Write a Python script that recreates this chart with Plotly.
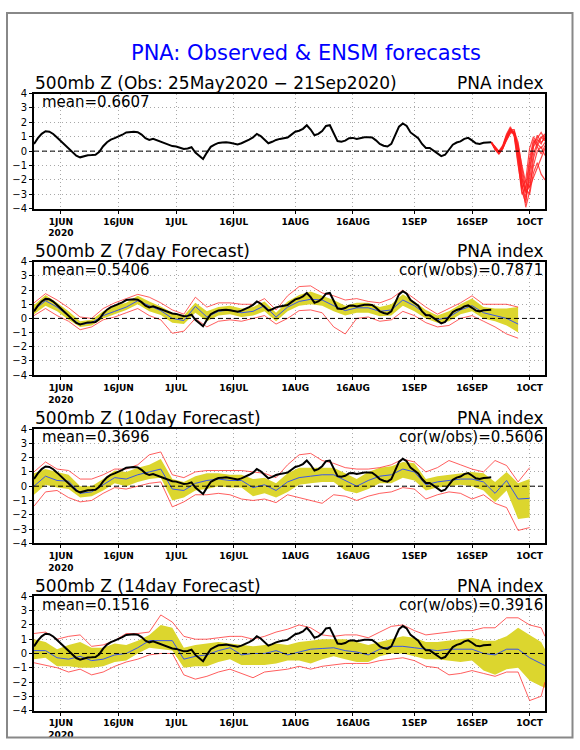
import pandas as pd
import plotly.graph_objects as go

W, H = 580, 750
START = pd.Timestamp("2020-05-25")

# ---------------- data ----------------
# observed PNA index, daily 25May2020 .. 21Sep2020
OBS = [0.50, 0.90, 1.20, 1.38, 1.35, 1.19, 0.95, 0.70, 0.40, 0.15,
       -0.10, -0.32, -0.43, -0.35, -0.28, -0.27, -0.25, -0.05, 0.34, 0.62,
       0.80, 0.90, 1.00, 1.14, 1.30, 1.35, 1.35, 1.32, 1.15, 0.90,
       0.78, 0.85, 0.75, 0.62, 0.55, 0.42, 0.35, 0.32, 0.22, 0.15,
       0.18, 0.27, -0.10, -0.35, -0.55, -0.10, 0.30, 0.45, 0.57, 0.60,
       0.62, 0.58, 0.52, 0.47, 0.55, 0.65, 0.80, 0.95, 1.20, 1.05,
       0.82, 0.55, 0.65, 0.78, 0.85, 0.89, 0.95, 1.15, 1.35, 1.42,
       1.55, 1.80, 1.50, 1.10, 1.20, 1.40, 1.75, 1.80, 1.25, 0.70,
       0.66, 0.73, 0.90, 0.92, 0.85, 0.92, 0.96, 0.96, 0.95, 0.75,
       0.50, 0.38, 0.32, 0.50, 1.10, 1.70, 1.92, 1.75, 1.30, 1.10,
       0.90, 0.50, 0.22, 0.22, 0.05, -0.15, -0.35, -0.25, 0.10, 0.45,
       0.60, 0.68, 0.85, 0.92, 0.75, 0.55, 0.50, 0.58, 0.60, 0.62]

# ensemble members (top panel), daily 21Sep .. 5Oct
ENS_DAYS = list(range(119, 134))
ENS_M1 = [0.62, 0.20, -0.10, 0.30, 1.00, 1.50, 1.20, -0.50, -2.80, -3.60, -1.50, 0.30, 0.80, 0.50, 1.10]
ENS_M2 = [0.62, 0.15, -0.15, 0.20, 0.90, 1.40, 1.30, 0.20, -1.80, -3.20, -2.00, -0.20, 0.60, 1.00, 0.70]
ENS_M3 = [0.62, 0.25, -0.05, 0.35, 1.10, 1.60, 1.10, -0.80, -3.00, -2.50, -0.50, 0.80, 0.30, -0.20, 0.40]
ENS_M4 = [0.62, 0.10, -0.20, 0.15, 0.80, 1.30, 1.40, 0.60, -1.20, -2.60, -3.00, -1.50, -0.80, -1.60, -2.00]
ENS_M5 = [0.62, 0.20, -0.10, 0.25, 0.95, 1.50, 1.50, 0.00, -2.20, -3.90, -2.80, -0.50, 0.40, 0.90, 1.20]
ENS_M6 = [0.62, 0.30, 0.00, 0.40, 1.20, 1.70, 1.00, -1.00, -2.60, -2.00, 0.20, 1.00, 0.50, 0.20, 0.60]
ENS_M7 = [0.62, 0.18, -0.12, 0.22, 0.85, 1.35, 1.25, 0.30, -1.50, -2.90, -2.40, -1.00, 0.00, 0.30, -0.30]
ENS_M8 = [0.62, 0.22, -0.08, 0.28, 1.05, 1.55, 1.35, -0.20, -2.40, -3.40, -1.20, 0.40, 1.10, 0.60, 0.90]
ENS_M9 = [0.62, 0.12, -0.18, 0.18, 0.75, 1.25, 1.30, 0.40, -1.00, -2.20, -2.50, -1.80, -1.20, -0.40, 0.20]
ENS_M10 = [0.62, 0.25, -0.05, 0.30, 1.00, 1.45, 1.15, -0.30, -2.00, -2.80, -0.80, 0.60, 0.90, 1.30, 0.80]
ENS_MEMBERS = [ENS_M1, ENS_M2, ENS_M3, ENS_M4, ENS_M5, ENS_M6, ENS_M7, ENS_M8, ENS_M9, ENS_M10]

# 7-day forecasts (every 3 days from 25May)
F7_DAYS = list(range(0, 127, 3))
F7_MEAN = [0.6, 1.25, 0.8, 0.2, -0.45, -0.3, 0.2, 0.5, 0.8, 1.25, 0.9, 0.55, 0.0, -0.15, 0.85,
           0.1, 0.5, 0.6, 0.4, 0.5, 0.9, 0.1, 0.8, 1.2, 1.35, 1.3, 0.9, 0.55, 0.75, 0.75,
           0.5, 0.6, 1.3, 0.9, 0.3, -0.1, 0.1, 0.6, 0.9, 0.4, 0.2, 0.0, -0.4]
F7_SLO = [0.3, 0.9, 0.5, -0.1, -0.6, -0.5, 0.0, 0.3, 0.6, 1.0, 0.5, 0.25, -0.3, -0.4, 0.4,
          -0.2, 0.2, 0.3, 0.1, 0.2, 0.5, -0.2, 0.5, 0.9, 1.0, 0.9, 0.5, 0.2, 0.4, 0.4,
          0.15, 0.2, 0.9, 0.5, 0.0, -0.3, -0.2, 0.3, 0.5, 0.0, -0.2, -0.5, -1.0]
F7_SHI = [0.95, 1.65, 1.1, 0.5, -0.2, -0.1, 0.5, 0.9, 1.1, 1.6, 1.2, 0.85, 0.4, 0.2, 1.1,
          0.5, 0.8, 0.9, 0.7, 0.8, 1.2, 0.4, 1.2, 1.65, 1.9, 1.6, 1.3, 0.9, 1.1, 1.1,
          0.8, 1.0, 1.7, 1.2, 0.6, 0.2, 0.5, 1.0, 1.4, 0.8, 0.7, 0.7, 0.8]
F7_MIN = [0.2, 0.7, 0.2, -0.2, -0.8, -0.6, -0.1, 0.1, 0.4, 0.7, 0.2, -0.1, -1.05, -0.9, 0.0,
          -0.6, -0.2, -0.1, -0.2, 0.0, 0.2, -0.4, 0.0, 0.55, 0.6, 0.4, -0.6, -1.1, 0.0, 0.1,
          -0.2, -0.1, 0.5, 0.2, -0.3, -0.6, -0.5, 0.0, 0.2, -0.2, -0.6, -1.1, -1.4]
F7_MAX = [1.1, 1.75, 1.3, 0.75, 0.1, 0.0, 0.7, 1.1, 1.4, 1.7, 1.5, 1.1, 0.6, 0.3, 1.5,
          0.8, 1.1, 1.1, 1.0, 1.0, 1.4, 0.6, 1.6, 2.25, 2.3, 1.8, 1.6, 1.3, 1.4, 1.2,
          1.1, 1.4, 2.0, 1.4, 0.8, 0.3, 0.7, 1.1, 1.6, 1.0, 1.0, 1.0, 0.8]

# 10-day forecasts
F10_DAYS = list(range(0, 130, 3))
F10_MEAN = [0.0, 0.7, 0.4, 0.35, -0.5, -0.4, 0.1, 0.6, 0.5, 0.8, 1.0, 1.2, -0.2, -0.3, 0.2,
            0.4, 0.5, 0.4, 0.4, -0.1, 0.1, -0.3, 0.3, 0.6, 0.7, 0.8, 0.8, 0.4, 0.0, 0.4,
            0.7, 0.8, 1.2, 1.0, 0.1, 0.3, 0.4, 0.5, 0.5, 0.3, -0.5, 0.4, -0.9, -0.85]
F10_SLO = [-0.6, 0.1, -0.1, -0.2, -0.8, -0.7, -0.3, 0.2, 0.0, 0.3, 0.5, 0.6, -1.0, -0.8, -0.3,
           -0.2, 0.0, -0.1, -0.1, -0.7, -0.5, -0.8, -0.4, 0.1, 0.2, 0.3, 0.3, -0.3, -0.5, -0.2,
           0.2, 0.2, 0.6, 0.4, -0.3, -0.1, 0.0, 0.1, 0.0, -0.3, -1.1, -0.3, -2.3, -2.2]
F10_SHI = [0.9, 1.2, 1.0, 0.8, 0.0, 0.0, 0.5, 1.1, 1.0, 1.3, 1.5, 1.9, 0.5, 0.3, 0.7,
           0.9, 0.9, 0.8, 0.8, 0.5, 0.6, 0.2, 0.9, 1.3, 1.3, 1.3, 1.3, 0.9, 0.5, 1.0,
           1.3, 1.4, 1.7, 1.6, 0.5, 0.7, 0.8, 0.9, 1.0, 0.9, 0.3, 1.0, 0.2, 0.5]
F10_MIN = [-1.4, -0.4, -0.3, -0.8, -1.1, -1.0, -0.5, -0.1, -0.2, 0.0, 0.2, 0.3, -1.45, -1.1, -0.6,
           -0.6, -0.5, -0.6, -0.9, -1.0, -0.9, -1.15, -0.6, -0.8, -1.0, -1.2, -0.6, -0.7, -1.0, -0.7,
           -0.5, -0.4, -0.1, -0.2, -0.9, -0.6, -0.4, -0.5, -0.9, -0.6, -1.2, -1.5, -3.1, -2.9]
F10_MAX = [1.0, 1.7, 1.2, 1.1, 0.5, 0.5, 0.8, 1.2, 1.2, 1.5, 2.2, 2.4, 0.8, 0.6, 1.0,
           1.1, 1.1, 1.1, 1.1, 1.0, 0.9, 0.6, 1.5, 2.2, 2.3, 1.8, 1.6, 1.3, 1.2, 1.2,
           1.3, 1.5, 1.9, 1.7, 1.0, 1.3, 1.8, 1.5, 1.2, 1.0, 1.8, 1.45, 0.3, 1.3]

# 14-day forecasts
F14_DAYS = list(range(0, 133, 3)) + [133]
F14_MEAN = [0.2, 0.2, -0.3, -0.4, -0.2, -0.5, -0.4, -0.1, 0.0, 0.4, 0.9, 0.9, 0.9, -0.4, -0.2,
            -0.1, 0.2, 0.4, -0.1, 0.0, 0.0, 0.2, -0.1, 0.1, 0.3, 0.35, 0.4, 0.2, 0.1, -0.1,
            0.3, 0.5, 0.5, 0.4, 0.3, 0.2, 0.3, 0.3, 0.3, 0.0, -0.1, 0.3, 0.3, -0.3, -0.7, -0.85]
F14_SLO = [-0.4, -0.3, -0.9, -0.9, -1.0, -1.0, -0.9, -0.6, -0.5, 0.0, 0.4, 0.3, 0.2, -1.0, -0.9,
           -0.9, -0.6, -0.4, -0.8, -0.8, -0.8, -0.7, -0.5, -0.5, -0.7, -0.4, -0.2, -0.4, -0.6, -0.6,
           -0.2, 0.0, 0.0, -0.2, -0.4, -0.4, -0.5, -0.6, -0.5, -1.2, -1.5, -1.1, -1.0, -1.9, -2.3, -2.4]
F14_SHI = [1.0, 0.8, 0.3, 0.6, 0.8, 0.4, 0.4, 0.7, 0.6, 0.9, 1.3, 2.0, 1.8, 0.4, 0.6,
           0.7, 0.8, 0.7, 0.6, 0.5, 0.6, 0.7, 0.6, 0.8, 0.9, 1.0, 1.0, 1.0, 0.8, 0.6,
           0.8, 1.0, 1.2, 1.1, 0.8, 0.8, 0.9, 1.0, 1.1, 0.9, 0.9, 1.2, 1.8, 1.3, 0.8, 0.3]
F14_MIN = [-0.65, -0.8, -1.0, -1.3, -1.1, -1.5, -1.3, -0.9, -0.6, -0.4, -0.1, 0.0, 0.0, -1.5, -1.8,
           -1.6, -1.3, -1.1, -1.4, -1.7, -1.3, -1.2, -1.1, -0.9, -1.1, -0.9, -0.8, -0.7, -0.7, -0.7,
           -0.5, -0.4, -0.3, -0.5, -0.9, -1.0, -1.5, -1.4, -1.2, -1.4, -1.6, -1.3, -1.3, -3.3, -3.0, -2.0]
F14_MAX = [1.4, 1.5, 1.0, 1.2, 1.3, 0.5, 0.6, 0.9, 1.4, 1.4, 1.5, 2.7, 2.2, 1.2, 1.0,
           1.0, 1.1, 1.2, 1.2, 1.0, 1.2, 1.5, 1.7, 2.0, 1.8, 1.3, 1.2, 1.3, 1.3, 1.1,
           1.5, 1.9, 2.0, 1.6, 1.3, 1.4, 1.5, 1.6, 1.6, 1.8, 1.8, 2.5, 2.5, 2.0, 1.8, 1.2]

TICK_DATES = ["2020-06-01", "2020-06-16", "2020-07-01", "2020-07-16", "2020-08-01",
              "2020-08-16", "2020-09-01", "2020-09-16", "2020-10-01"]
TICK_TEXT = ["1JUN<br>2020", "16JUN", "1JUL", "16JUL", "1AUG", "16AUG", "1SEP", "16SEP", "1OCT"]
Y_TICKS = [-4, -3, -2, -1, 0, 1, 2, 3, 4]
Y_TEXT = ["\u22124", "\u22123", "\u22122", "\u22121", "0", "1", "2", "3", "4"]

TITLE = "PNA: Observed & ENSM forecasts"
SUBTITLES = ["500mb Z (Obs: 25May2020 \u2212 21Sep2020)", "500mb Z (7day Forecast)",
             "500mb Z (10day Forecast)", "500mb Z (14day Forecast)"]
MEANS = ["mean=0.6607", "mean=0.5406", "mean=0.3696", "mean=0.1516"]
CORS = [None, "cor(w/obs)=0.7871", "cor(w/obs)=0.5606", "cor(w/obs)=0.3916"]

# ---------------- style / geometry ----------------
FONT = "DejaVu Sans"
YEL = "#dcd62e"
BLUE = "#3a55e6"
RED = "rgba(255,40,40,0.75)"
GRID = "#a8a8a8"
PX_L, PX_R = 34, 545
PANELS = [(89, 206), (260, 375), (430, 546), (600, 716)]


def dates(days):
    return [START + pd.Timedelta(days=d) for d in days]


fig = go.Figure()
obs_x = dates(range(len(OBS)))

for i in range(4):
    ax = "" if i == 0 else str(i + 1)
    xa, ya = "x" + ax, "y" + ax
    common = dict(xaxis=xa, yaxis=ya, showlegend=False, hoverinfo="skip", mode="lines")
    if i == 0:
        ex = dates(ENS_DAYS)
        for m in ENS_MEMBERS:
            fig.add_trace(go.Scatter(x=ex, y=m, line=dict(color="rgba(255,30,30,0.8)", width=1.2), **common))
    else:
        d, mean, slo, shi, mn, mx = [
            (F7_DAYS, F7_MEAN, F7_SLO, F7_SHI, F7_MIN, F7_MAX),
            (F10_DAYS, F10_MEAN, F10_SLO, F10_SHI, F10_MIN, F10_MAX),
            (F14_DAYS, F14_MEAN, F14_SLO, F14_SHI, F14_MIN, F14_MAX)][i - 1]
        fx = dates(d)
        fig.add_trace(go.Scatter(x=fx, y=slo, line=dict(width=0, color=YEL), **common))
        fig.add_trace(go.Scatter(x=fx, y=shi, line=dict(width=0, color=YEL), fill="tonexty",
                                 fillcolor=YEL, **common))
        fig.add_trace(go.Scatter(x=fx, y=mn, line=dict(color=RED, width=1), **common))
        fig.add_trace(go.Scatter(x=fx, y=mx, line=dict(color=RED, width=1), **common))
        fig.add_trace(go.Scatter(x=fx, y=mean, line=dict(color=BLUE, width=1), **common))
    fig.add_trace(go.Scatter(x=obs_x, y=OBS, line=dict(color="black", width=2), **common))

    top, bot = PANELS[i]
    fig.layout["xaxis" + ax] = dict(
        domain=[PX_L / W, PX_R / W], anchor=ya, type="date",
        range=["2020-05-25", "2020-10-05"],
        tickvals=TICK_DATES, ticktext=TICK_TEXT, ticks="outside", ticklen=3,
        tickcolor="black", tickfont=dict(family=FONT, size=9, color="black", weight="bold"),
        showgrid=True, gridcolor=GRID, griddash="1px,3px", gridwidth=1,
        showline=True, mirror=True, linecolor="black", linewidth=2, zeroline=False)
    fig.layout["yaxis" + ax] = dict(
        domain=[1 - bot / H, 1 - top / H], anchor=xa, range=[-4, 4],
        tickvals=Y_TICKS, ticktext=Y_TEXT, ticks="outside", ticklen=3, tickcolor="black",
        tickfont=dict(family=FONT, size=10, color="black"),
        showgrid=True, gridcolor=GRID, griddash="1px,3px", gridwidth=1,
        showline=True, mirror=True, linecolor="black", linewidth=2, zeroline=False)

    fig.add_shape(type="line", xref=xa + " domain", x0=0, x1=1, yref=ya, y0=0, y1=0,
                  line=dict(color="black", width=1, dash="5px,3px"), layer="above")

    fig.add_annotation(text=SUBTITLES[i], xref="paper", yref="paper", x=33 / W, y=1 - (top - 11) / H,
                       xanchor="left", yanchor="middle", showarrow=False,
                       font=dict(family=FONT, size=17, color="black"))
    fig.add_annotation(text="PNA index", xref="paper", yref="paper", x=546 / W, y=1 - (top - 11) / H,
                       xanchor="right", yanchor="middle", showarrow=False,
                       font=dict(family=FONT, size=17, color="black"))
    fig.add_annotation(text=MEANS[i], xref="paper", yref="paper", x=40 / W, y=1 - (top + 8.5) / H,
                       xanchor="left", yanchor="middle", showarrow=False,
                       font=dict(family=FONT, size=15, color="black"))
    if CORS[i]:
        fig.add_annotation(text=CORS[i], xref="paper", yref="paper", x=545 / W, y=1 - (top + 8.5) / H,
                           xanchor="right", yanchor="middle", showarrow=False,
                           font=dict(family=FONT, size=15, color="black"))

fig.add_annotation(text=TITLE, xref="paper", yref="paper", x=306 / W, y=1 - 48 / H,
                   xanchor="center", yanchor="middle", showarrow=False,
                   font=dict(family=FONT, size=21, color="#0000ff"))

fig.add_shape(type="rect", xref="paper", yref="paper", x0=7 / W, x1=572.5 / W,
              y0=1 - 743.5 / H, y1=1 - 7 / H, line=dict(color="#888888", width=2), layer="above")

fig.update_layout(width=W, height=H, margin=dict(l=0, r=0, t=0, b=0),
                  paper_bgcolor="white", plot_bgcolor="white", showlegend=False)

fig.write_html("out.html", config={"displayModeBar": False},
               post_script="document.body.style.margin='0px';")
